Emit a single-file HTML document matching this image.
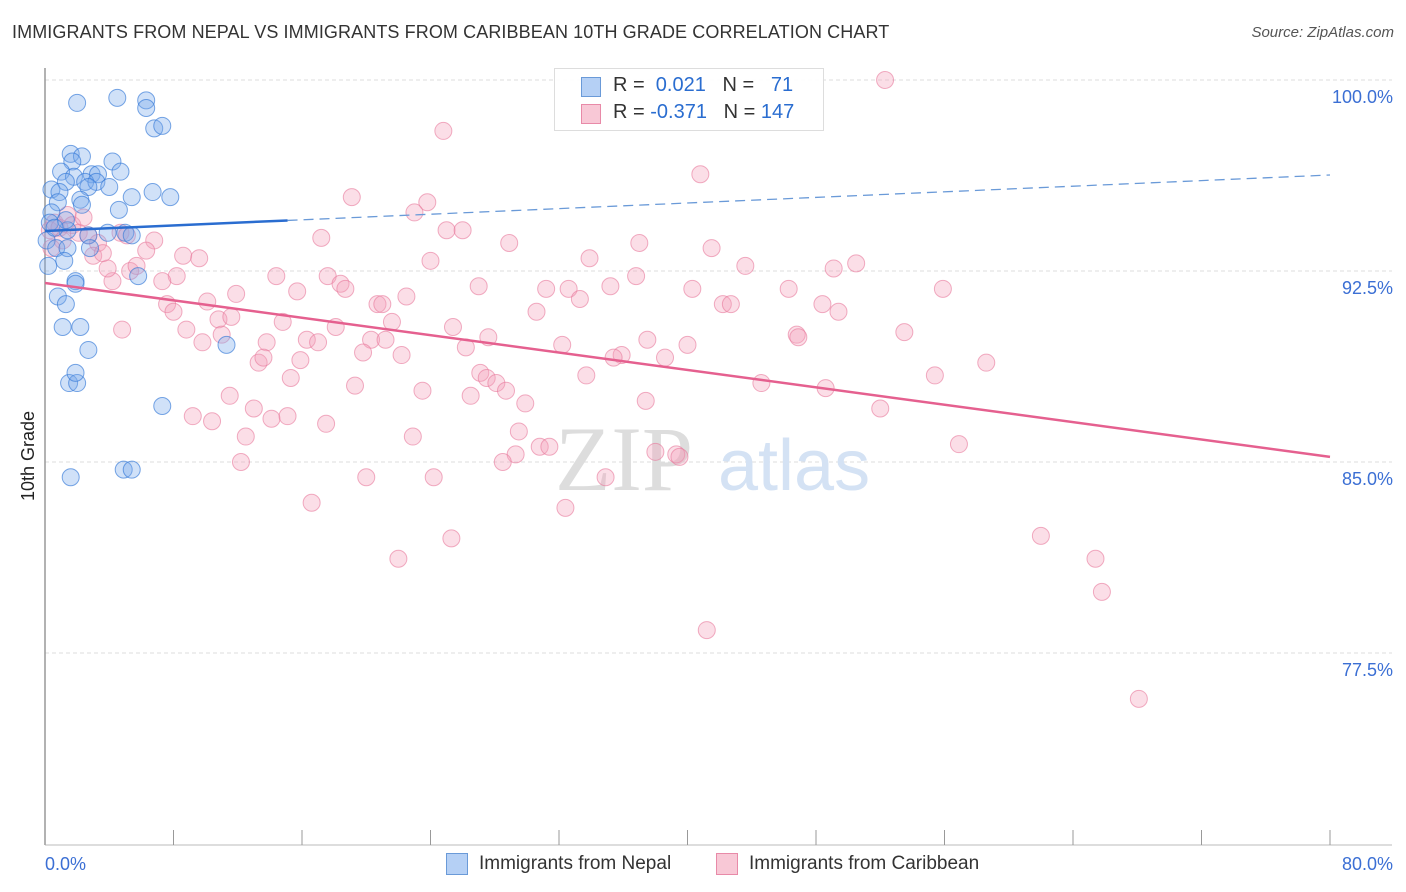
<!DOCTYPE html>
<html><head><meta charset="utf-8"><style>
body{margin:0;background:#fff;font-family:"Liberation Sans",sans-serif;}
#wrap{position:relative;width:1406px;height:892px;overflow:hidden;}
.t{position:absolute;white-space:nowrap;}
</style></head><body>
<div id="wrap">
<div class="t" style="left:12px;top:22px;font-size:18px;color:#333;letter-spacing:0.1px">IMMIGRANTS FROM NEPAL VS IMMIGRANTS FROM CARIBBEAN 10TH GRADE CORRELATION CHART</div>
<div class="t" style="right:12px;top:24px;font-size:15px;color:#555;font-style:italic">Source: ZipAtlas.com</div>
<svg id="svg" width="1406" height="892" style="position:absolute;left:0;top:0"></svg>
</div>
<script>
const nepalX=[2.0,4.5,6.3,6.3,6.8,7.3,1.6,2.3,1.7,4.2,1.0,1.8,2.9,3.3,4.7,1.3,2.5,3.2,2.7,4.0,0.4,0.9,6.7,7.8,5.4,2.2,0.8,2.3,4.6,0.4,0.3,1.4,2.7,3.9,5.0,5.4,0.1,0.7,1.4,2.8,1.2,0.2,5.8,1.9,1.9,0.8,1.3,1.1,2.2,2.7,11.3,1.5,2.0,1.9,7.3,4.9,5.4,1.6,1.3,0.6];
const nepalY=[99.1,99.3,99.2,98.9,98.1,98.2,97.1,97.0,96.8,96.8,96.4,96.2,96.3,96.3,96.4,96.0,96.0,96.0,95.8,95.8,95.7,95.6,95.6,95.4,95.4,95.3,95.2,95.1,94.9,94.8,94.4,94.1,93.9,94.0,94.0,93.9,93.7,93.4,93.4,93.4,92.9,92.7,92.3,92.1,92.0,91.5,91.2,90.3,90.3,89.4,89.6,88.1,88.1,88.5,87.2,84.7,84.7,84.4,94.5,94.2];
const caribX=[52.3,24.8,40.8,19.1,23.8,23.0,25.0,26.0,17.2,28.9,37.0,41.5,6.8,8.6,9.6,6.3,33.9,24.0,43.6,50.5,49.1,14.4,17.6,8.2,36.8,7.3,4.2,15.7,18.4,18.7,27.0,31.2,32.6,35.2,40.3,46.3,55.9,11.9,22.5,10.1,20.7,21.0,33.3,42.2,42.7,48.4,49.4,7.6,8.0,21.6,14.8,18.1,10.8,11.6,8.8,25.4,27.6,30.6,53.5,46.8,46.9,4.8,11.0,9.8,13.8,16.3,17.0,20.3,21.2,26.2,32.2,37.5,40.0,19.8,22.2,35.9,35.4,38.6,13.3,13.6,15.9,58.6,15.3,27.1,27.5,33.7,55.4,19.3,28.1,28.7,44.6,48.6,23.5,11.5,26.5,29.9,37.4,13.0,52.0,9.2,10.4,14.1,15.1,17.5,29.5,12.5,22.9,30.8,31.4,56.9,38.0,39.3,39.5,29.3,28.5,12.2,34.9,20.0,24.2,16.6,32.4,25.3,62.0,22.0,65.4,65.8,41.2,68.1,0.3,0.6,0.9,1.4,1.7,2.1,2.7,1.1,0.4,2.4,3.3,3.9,5.3,5.7,4.7,5.1,3.0,3.6];
const caribY=[100.0,98.0,96.3,95.4,95.2,94.8,94.1,94.1,93.8,93.6,93.6,93.4,93.7,93.1,93.0,93.3,93.0,92.9,92.7,92.8,92.6,92.3,92.3,92.3,92.3,92.1,92.1,91.7,92.0,91.8,91.9,91.8,91.8,91.9,91.8,91.8,91.8,91.6,91.5,91.3,91.2,91.2,91.4,91.2,91.2,91.2,90.9,91.2,90.9,90.5,90.5,90.3,90.6,90.7,90.2,90.3,89.9,90.9,90.1,90.0,89.9,90.2,90.0,89.7,89.7,89.8,89.7,89.8,89.8,89.5,89.6,89.8,89.6,89.3,89.2,89.2,89.1,89.1,88.9,89.1,89.0,88.9,88.3,88.5,88.3,88.4,88.4,88.0,88.1,87.8,88.1,87.9,87.8,87.6,87.6,87.3,87.4,87.1,87.1,86.8,86.6,86.7,86.8,86.5,86.2,86.0,86.0,85.6,85.6,85.7,85.4,85.3,85.2,85.3,85.0,85.0,84.4,84.4,84.4,83.4,83.2,82.0,82.1,81.2,81.2,79.9,78.4,75.7,94.1,94.4,94.2,94.7,94.3,94.0,93.9,93.7,93.4,94.6,93.6,92.6,92.5,92.7,94.0,93.9,93.1,93.2];
const nepalTrend=[94.07,96.27]; // y at x=0 and x=80
const caribTrend=[92.03,85.20];
const yTicks=[100.0,92.5,85.0,77.5];
const yTickLabels=["100.0%","92.5%","85.0%","77.5%"];
const xEndLabels=["0.0%","80.0%"];

const NS="http://www.w3.org/2000/svg";
const svg=document.getElementById('svg');
const X=v=>45+v*(1285/80);
const Y=v=>80+(100-v)*(191/7.5);
function mk(tag,attrs,parent){const e=document.createElementNS(NS,tag);for(const k in attrs)e.setAttribute(k,attrs[k]);(parent||svg).appendChild(e);return e;}

// gridlines & y labels
yTicks.forEach((v,i)=>{
  const g=mk('line',{x1:45,x2:1392,y1:Y(v),y2:Y(v),stroke:'#ddd','stroke-dasharray':'4,3','stroke-width':1});
  
  
  const t=mk('text',{x:1393,y:Y(v)+23,'text-anchor':'end','font-size':18,fill:'#3b6fd4','font-family':'Liberation Sans, sans-serif'});
  t.textContent=yTickLabels[i];
  
  
});
// axes
const ax=mk('line',{x1:45,x2:45,y1:68,y2:845,stroke:'#999','stroke-width':1.5});


const bx=mk('line',{x1:45,x2:1392,y1:845,y2:845,stroke:'#bbb','stroke-width':1});


for(let i=0;i<=10;i++){
  const tk=mk('line',{x1:X(i*8),x2:X(i*8),y1:830,y2:845,stroke:'#999','stroke-width':1});
  
  
}
const xl0=mk('text',{x:45,y:870,'font-size':18,fill:'#3b6fd4'});xl0.textContent=xEndLabels[0];


const xl1=mk('text',{x:1393,y:870,'text-anchor':'end','font-size':18,fill:'#3b6fd4'});xl1.textContent=xEndLabels[1];


const yt=mk('text',{x:34,y:456,'font-size':18,fill:'#222','text-anchor':'middle',transform:'rotate(-90 34 456)'});yt.textContent='10th Grade';



// watermark
const wm=mk('text',{x:555,y:490,'font-size':92,fill:'#ddd','font-family':'Liberation Serif, serif'});wm.textContent='ZIP';


const wm2=mk('text',{x:718,y:490,'font-size':72,fill:'#d4e2f4','font-family':'Liberation Sans, sans-serif'});wm2.textContent='atlas';



// points
caribX.forEach((x,i)=>{
  const c=mk('circle',{cx:X(x),cy:Y(caribY[i]),r:8.5,fill:'rgba(244,160,185,0.35)',stroke:'rgba(232,120,155,0.6)','stroke-width':1});
  
  
});
nepalX.forEach((x,i)=>{
  const c=mk('circle',{cx:X(x),cy:Y(nepalY[i]),r:8.5,fill:'rgba(120,170,235,0.35)',stroke:'rgba(50,120,215,0.65)','stroke-width':1});
  
  
});
// trends
const nAt=x=>nepalTrend[0]+(nepalTrend[1]-nepalTrend[0])*x/80;
const t1=mk('line',{x1:X(0),y1:Y(nAt(0)),x2:X(15.1),y2:Y(nAt(15.1)),stroke:'#2a6dd0','stroke-width':2.5});


const t2=mk('line',{x1:X(15.1),y1:Y(nAt(15.1)),x2:X(80),y2:Y(nAt(80)),stroke:'#6a9ad8','stroke-width':1.3,'stroke-dasharray':'10,6'});


const t3=mk('line',{x1:X(0),y1:Y(caribTrend[0]),x2:X(80),y2:Y(caribTrend[1]),stroke:'#e5608f','stroke-width':2.5});


</script>
<div class="t" style="left:554px;top:68px;width:268px;height:61px;border:1px solid #ddd;background:rgba(255,255,255,0.9)">
 <div style="position:absolute;left:26px;top:8px;width:18px;height:18px;background:#b5d0f5;border:1px solid #6a9ad8"></div>
 <div class="t" style="left:58px;top:5px;font-size:20px;color:#333">R = <span style="color:#2a6dd0">&nbsp;0.021</span>&nbsp;&nbsp;&nbsp;N = &nbsp;&nbsp;<span style="color:#2a6dd0">71</span></div>
 <div style="position:absolute;left:26px;top:35px;width:18px;height:18px;background:#f8c8d6;border:1px solid #e88aa8"></div>
 <div class="t" style="left:58px;top:32px;font-size:20px;color:#333">R = <span style="color:#2a6dd0">-0.371</span>&nbsp;&nbsp;&nbsp;N = <span style="color:#2a6dd0">147</span></div>
</div>
<div class="t" style="left:446px;top:853px;width:20px;height:20px;background:#b5d0f5;border:1px solid #6a9ad8"></div>
<div class="t" style="left:479px;top:853px;font-size:19px;color:#333">Immigrants from Nepal</div>
<div class="t" style="left:716px;top:853px;width:20px;height:20px;background:#f8c8d6;border:1px solid #e88aa8"></div>
<div class="t" style="left:749px;top:853px;font-size:19px;color:#333">Immigrants from Caribbean</div>
</body></html>
